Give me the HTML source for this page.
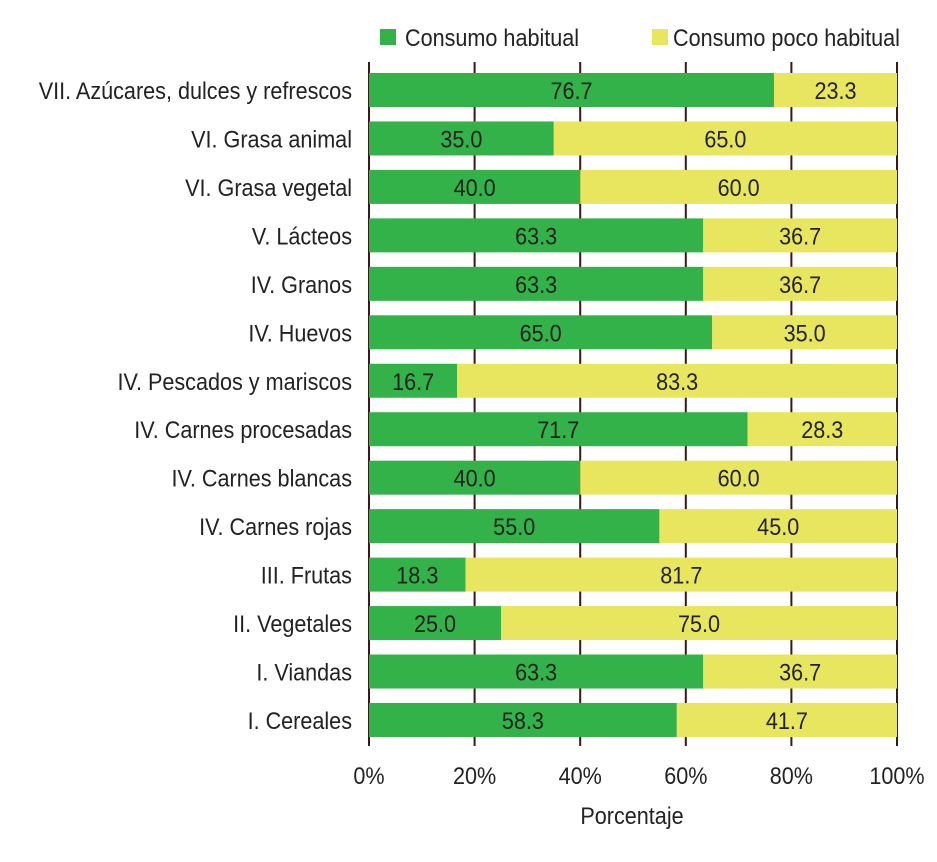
<!DOCTYPE html>
<html><head><meta charset="utf-8"><style>
html,body{margin:0;padding:0;background:#fff;}
svg{display:block;font-family:"Liberation Sans",sans-serif;}
</style></head><body>
<svg id="chart" width="937" height="862" viewBox="0 0 937 862" xmlns="http://www.w3.org/2000/svg">
<g id="grid"></g>
<g id="bars"></g>
<g id="labels"></g>
<g id="ticks"></g>
<g>
  <rect x="380" y="29" width="16" height="16" fill="#33b24a"/>
  <text transform="translate(405,46) scale(0.9,1)" font-size="24" fill="#222">Consumo habitual</text>
  <rect x="652" y="29" width="16" height="16" fill="#e8e65e"/>
  <text transform="translate(673,46) scale(0.9,1)" font-size="24" fill="#222">Consumo poco habitual</text>
</g>
<text transform="translate(632,824) scale(0.9,1)" text-anchor="middle" font-size="24" fill="#222">Porcentaje</text>
</svg>
<script>
const categories = ["VII. Azúcares, dulces y refrescos","VI. Grasa animal","VI. Grasa vegetal","V. Lácteos","IV. Granos","IV. Huevos","IV. Pescados y mariscos","IV. Carnes procesadas","IV. Carnes blancas","IV. Carnes rojas","III. Frutas","II. Vegetales","I. Viandas","I. Cereales"];
const habitual = [76.7,35.0,40.0,63.3,63.3,65.0,16.7,71.7,40.0,55.0,18.3,25.0,63.3,58.3];
const pocoHabitual = [23.3,65.0,60.0,36.7,36.7,35.0,83.3,28.3,60.0,45.0,81.7,75.0,36.7,41.7];
const tickValues = [0,20,40,60,80,100];
const tickLabels = ["0%","20%","40%","60%","80%","100%"];

const NS="http://www.w3.org/2000/svg";
const X0=369, W=528, TOP=73, PITCH=48.46, BH=34;
const xs=v=>X0+v/100*W;
const ys=i=>TOP+i*PITCH;
function mk(tag,attrs,parent){const e=document.createElementNS(NS,tag);for(const k in attrs)e.setAttribute(k,attrs[k]);parent.appendChild(e);return e;}
const grid=document.getElementById('grid'), bars=document.getElementById('bars'), labels=document.getElementById('labels'), ticks=document.getElementById('ticks');
tickValues.forEach((t,i)=>{
  const l=mk('line',{x1:xs(t),x2:xs(t),y1:62,y2:746,stroke:'#3a1818','stroke-width':2},grid);
  
  
  const tx=mk('text',{transform:`translate(${xs(t)},784) scale(0.9,1)`,'text-anchor':'middle','font-size':24,fill:'#222'},ticks);
  tx.textContent=tickLabels[i];
  
  
});
categories.forEach((c,i)=>{
  const y=ys(i);
  const a=mk('rect',{x:xs(0),y:y,width:xs(habitual[i])-xs(0),height:BH,fill:'#33b24a'},bars);
  
  
  const b=mk('rect',{x:xs(habitual[i]),y:y,width:xs(habitual[i]+pocoHabitual[i])-xs(habitual[i]),height:BH,fill:'#e8e65e'},bars);
  
  
  const t1=mk('text',{transform:`translate(${(xs(0)+xs(habitual[i]))/2},${y+26}) scale(0.9,1)`,'text-anchor':'middle','font-size':24,fill:'#222'},bars);
  t1.textContent=habitual[i].toFixed(1);
  
  
  const t2=mk('text',{transform:`translate(${(xs(habitual[i])+xs(habitual[i]+pocoHabitual[i]))/2},${y+26}) scale(0.9,1)`,'text-anchor':'middle','font-size':24,fill:'#222'},bars);
  t2.textContent=pocoHabitual[i].toFixed(1);
  
  
  const lb=mk('text',{transform:`translate(352,${y+26}) scale(0.9,1)`,'text-anchor':'end','font-size':24,fill:'#222'},labels);
  lb.textContent=c;
  
  
});
</script>
</body></html>
